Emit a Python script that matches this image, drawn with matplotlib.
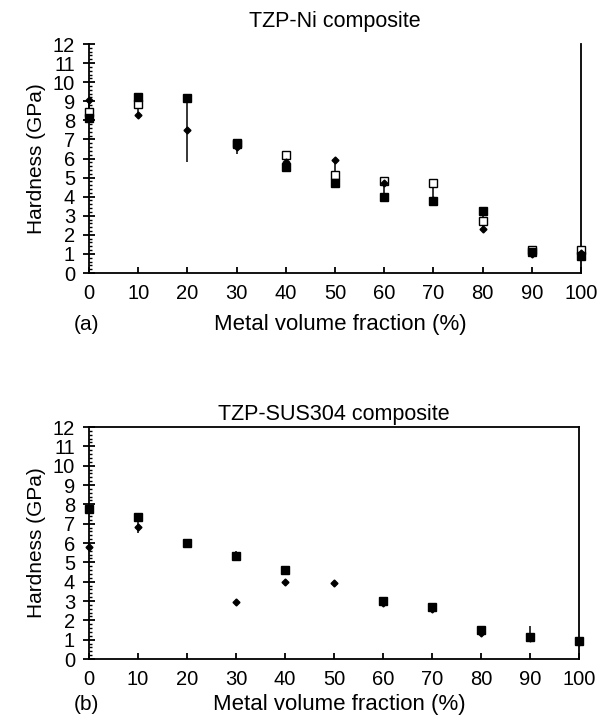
import numpy as np
import matplotlib.pyplot as plt
from matplotlib.ticker import MultipleLocator

plt.rcParams['font.family'] = ['Liberation Sans', 'DejaVu Sans']

# metal volume fraction (%)
frac = [0, 10, 20, 30, 40, 50, 60, 70, 80, 90, 100]
nan = np.nan

# TZP-Ni hardness (GPa)
ni_filled = [8.1, 9.2, 9.15, 6.75, 5.57, 4.73, 3.96, 3.79, 3.25, 1.1, 0.9]
ni_open = [8.45, 8.85, nan, 6.8, 6.18, 5.13, 4.8, 4.7, 2.75, 1.22, 1.2]
ni_diamond = [9.06, 8.3, 7.5, 6.6, 5.83, 5.92, 4.7, 3.85, 2.3, 1.0, 1.05]
ni_low = [8.1, 8.3, 5.8, 6.25, 5.57, 4.73, 3.96, 3.79, 2.3, 1.0, 0.9]
ni_high = [9.06, 9.2, 9.15, 6.8, 6.18, 5.92, 4.8, 4.85, 3.25, 1.25, 1.3]

# TZP-SUS304 hardness (GPa)
sus_filled = [7.74, 7.35, 5.98, 5.33, 4.6, nan, 3.0, 2.7, 1.5, 1.15, 0.95]
sus_diamond = [5.81, 6.81, 6.0, 2.96, 4.0, 3.91, 2.9, 2.6, 1.35, 1.1, 0.9]
sus_low = [7.74, 6.5, 5.98, 5.33, 4.6, 3.91, 2.9, 2.6, 1.35, 1.1, 0.9]
sus_high = [7.74, 7.35, 6.15, 5.6, 4.6, 3.91, 3.0, 2.7, 1.5, 1.7, 0.95]

xticks = list(range(0, 101, 10))
yticks = list(range(0, 13))

fig = plt.figure(figsize=(6.12, 7.19), dpi=100)
ax1 = fig.add_axes([0.1454, 0.6203, 0.8039, 0.3185])
ax2 = fig.add_axes([0.1454, 0.0834, 0.8006, 0.3227])


def style(ax, title, tag, top_spine, title_pad, label_y):
    ax.set_xlim(0, 100)
    ax.set_ylim(0, 12)
    ax.set_xticks(xticks)
    ax.set_yticks(yticks)
    ax.yaxis.set_minor_locator(MultipleLocator(0.2))
    for s in ax.spines.values():
        s.set_linewidth(1.3)
    ax.spines['top'].set_visible(top_spine)
    ax.tick_params(axis='x', direction='in', length=4, width=1.3,
                   labelsize=14.5, pad=8)
    ax.tick_params(axis='y', which='major', direction='inout', length=8,
                   width=1.3, labelsize=14.5, pad=6)
    ax.tick_params(axis='y', which='minor', direction='in', length=2.5,
                   width=1)
    ax.set_ylabel('Hardness (GPa)', fontsize=15, labelpad=5)
    ax.set_title(title, fontsize=15.5, pad=title_pad)
    ax.text(-0.005, label_y, tag, transform=ax.transAxes, fontsize=15,
            ha='center', va='center')
    ax.text(0.51, label_y, 'Metal volume fraction (%)', transform=ax.transAxes,
            fontsize=16, ha='center', va='center')


style(ax1, 'TZP-Ni composite', '(a)', False, 12, -0.225)
style(ax2, 'TZP-SUS304 composite', '(b)', True, 5, -0.195)

# top panel
ax1.vlines(frac, ni_low, ni_high, color='black', lw=1.1, clip_on=False)
ax1.plot(frac, ni_open, 's', ms=5.5, mfc='white', mec='black', mew=1,
         clip_on=False, zorder=3)
ax1.plot(frac, ni_filled, 's', ms=5.3, color='black', clip_on=False, zorder=4)
ax1.plot(frac, ni_diamond, 'D', ms=3.5, color='black', clip_on=False,
         zorder=5)

# bottom panel
ax2.vlines(frac, sus_low, sus_high, color='black', lw=1.1, clip_on=False)
ax2.plot(frac, sus_filled, 's', ms=5.3, color='black', clip_on=False, zorder=4)
ax2.plot(frac, sus_diamond, 'D', ms=3.5, color='black', clip_on=False,
         zorder=5)

fig.savefig('out.png', dpi=100)
